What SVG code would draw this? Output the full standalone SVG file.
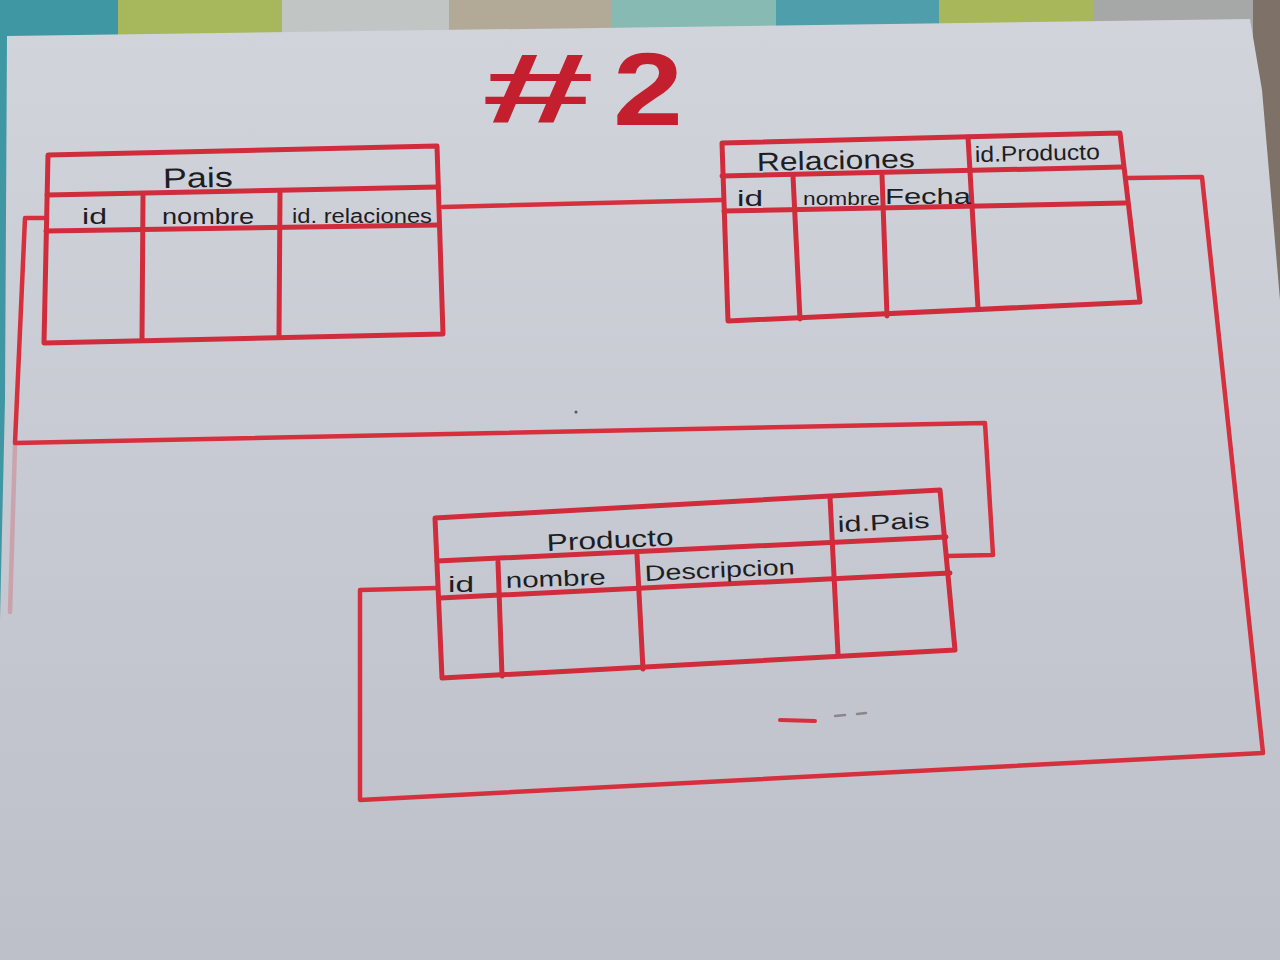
<svg xmlns="http://www.w3.org/2000/svg" width="1280" height="960" viewBox="0 0 1280 960">
  <style>
    .tbl { fill: none; stroke: #d02c3c; stroke-width: 5; stroke-linejoin: round; stroke-linecap: round; }
    .conn { fill: none; stroke: #d6303e; stroke-width: 4.5; stroke-linejoin: round; stroke-linecap: round; }
    .hw { font-family: "Liberation Sans", Arial, sans-serif; fill: #1d1d24; }
  </style>
  <defs>
    <linearGradient id="paper" x1="0" y1="0" x2="0" y2="1">
      <stop offset="0" stop-color="#d1d4db"/>
      <stop offset="0.5" stop-color="#c7cad2"/>
      <stop offset="1" stop-color="#bdc0c8"/>
    </linearGradient>
  </defs>

  <!-- background fabric -->
  <g id="fabric">
    <rect x="0" y="0" width="118" height="960" fill="#3f97a3"/>
    <rect x="118" y="0" width="164" height="60" fill="#a7b75c"/>
    <rect x="282" y="0" width="167" height="60" fill="#c1c5c3"/>
    <rect x="449" y="0" width="163" height="60" fill="#b3a997"/>
    <rect x="612" y="0" width="164" height="60" fill="#86bab2"/>
    <rect x="776" y="0" width="163" height="60" fill="#4e9eab"/>
    <rect x="939" y="0" width="155" height="60" fill="#a9b75b"/>
    <rect x="1094" y="0" width="159" height="60" fill="#a6a8a7"/>
    <rect x="1253" y="0" width="27" height="960" fill="#7d7168"/>
  </g>

  <!-- paper -->
  <polygon id="paper-sheet" points="7,36 1250,19 1262,90 1280,300 1280,960 0,960 0,620 5,400" fill="url(#paper)"/>

  <!-- title -->
  <g id="title">
    <text x="482" y="122" font-family="Liberation Sans, Arial, sans-serif" font-weight="bold" font-size="98" fill="#c41f2e" textLength="112" lengthAdjust="spacingAndGlyphs">#</text>
    <text x="613" y="125" font-family="Liberation Sans, Arial, sans-serif" font-weight="bold" font-size="104" fill="#c41f2e" textLength="70" lengthAdjust="spacingAndGlyphs">2</text>
  </g>

  <!-- connectors -->
  <g id="connectors">
    <polyline class="conn" points="443,207 722,200"/>
    <polyline class="conn" points="947,556 993,555 985,423 15,443 25,218 47,218"/>
    <polyline class="conn" points="15,445 10,612" stroke-opacity="0.25"/>
    <polyline class="conn" points="1128,178 1202,177 1263,753 360,800 360,590 437,588"/>
  </g>

  <!-- Pais table -->
  <g id="pais">
    <polygon class="tbl" points="48,155 437,146 443,334 44,343"/>
    <line class="tbl" x1="47" y1="195" x2="438" y2="187"/>
    <line class="tbl" x1="46" y1="231" x2="439" y2="225"/>
    <line class="tbl" x1="143" y1="196" x2="142" y2="340"/>
    <line class="tbl" x1="280" y1="193" x2="279" y2="336"/>
    <text class="hw" x="163" y="188" font-size="28" textLength="70" lengthAdjust="spacingAndGlyphs" transform="rotate(-1 163 188)">Pais</text>
    <text class="hw" x="82" y="224" font-size="22" textLength="25" lengthAdjust="spacingAndGlyphs">id</text>
    <text class="hw" x="162" y="224" font-size="22" textLength="92" lengthAdjust="spacingAndGlyphs">nombre</text>
    <text class="hw" x="292" y="223" font-size="20" textLength="140" lengthAdjust="spacingAndGlyphs">id. relaciones</text>
  </g>

  <!-- Relaciones table -->
  <g id="relaciones">
    <polygon class="tbl" points="722,143 1120,133 1140,302 728,321"/>
    <line class="tbl" x1="722" y1="176" x2="1122" y2="167"/>
    <line class="tbl" x1="724" y1="211" x2="1125" y2="203"/>
    <line class="tbl" x1="793" y1="176" x2="800" y2="319"/>
    <line class="tbl" x1="882" y1="175" x2="887" y2="316"/>
    <line class="tbl" x1="968" y1="137" x2="978" y2="308"/>
    <text class="hw" x="757" y="171" font-size="26" textLength="158" lengthAdjust="spacingAndGlyphs" transform="rotate(-1.3 757 171)">Relaciones</text>
    <text class="hw" x="975" y="162" font-size="22" textLength="125" lengthAdjust="spacingAndGlyphs" transform="rotate(-1.3 975 162)">id.Producto</text>
    <text class="hw" x="737" y="206" font-size="22" textLength="26" lengthAdjust="spacingAndGlyphs">id</text>
    <text class="hw" x="803" y="205" font-size="19" textLength="77" lengthAdjust="spacingAndGlyphs">nombre</text>
    <text class="hw" x="885" y="204" font-size="22" textLength="86" lengthAdjust="spacingAndGlyphs">Fecha</text>
  </g>

  <!-- Producto table -->
  <g id="producto">
    <polygon class="tbl" points="435,518 940,490 955,650 442,678"/>
    <line class="tbl" x1="437" y1="561" x2="946" y2="537"/>
    <line class="tbl" x1="440" y1="598" x2="950" y2="573"/>
    <line class="tbl" x1="498" y1="562" x2="502" y2="676"/>
    <line class="tbl" x1="637" y1="555" x2="643" y2="669"/>
    <line class="tbl" x1="830" y1="497" x2="838" y2="654"/>
    <text class="hw" x="547" y="551" font-size="24" textLength="127" lengthAdjust="spacingAndGlyphs" transform="rotate(-2.6 547 551)">Producto</text>
    <text class="hw" x="838" y="532" font-size="22" textLength="92" lengthAdjust="spacingAndGlyphs" transform="rotate(-2.6 838 532)">id.Pais</text>
    <text class="hw" x="448" y="592" font-size="22" textLength="26" lengthAdjust="spacingAndGlyphs">id</text>
    <text class="hw" x="506" y="588" font-size="22" textLength="100" lengthAdjust="spacingAndGlyphs" transform="rotate(-2 506 588)">nombre</text>
    <text class="hw" x="645" y="581" font-size="22" textLength="150" lengthAdjust="spacingAndGlyphs" transform="rotate(-2.6 645 581)">Descripcion</text>
  </g>

  <!-- stray marks -->
  <g id="marks">
    <path d="M780,720 L815,721" stroke="#d6303e" stroke-width="4" stroke-linecap="round" fill="none"/>
    <path d="M835,716 L845,715 M857,714 L866,713" stroke="#6a5a60" stroke-width="2.5" stroke-linecap="round" fill="none" opacity="0.6"/>
    <circle cx="576" cy="412" r="1.5" fill="#555"/>
  </g>
</svg>
